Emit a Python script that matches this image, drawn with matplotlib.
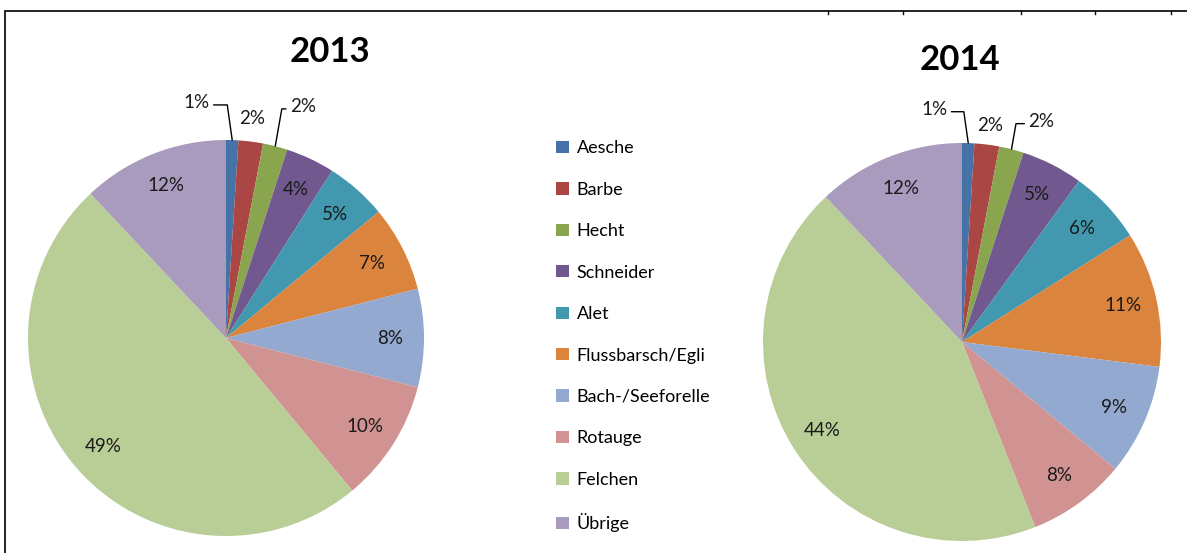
import numpy as np
import matplotlib
matplotlib.use("Agg")
import matplotlib.pyplot as plt
from matplotlib.patches import Rectangle

plt.rcParams['font.family'] = ['Lato', 'DejaVu Sans']

# Data (percent of catch)
species = ['Aesche', 'Barbe', 'Hecht', 'Schneider', 'Alet', 'Flussbarsch/Egli',
           'Bach-/Seeforelle', 'Rotauge', 'Felchen', 'Übrige']
share_2013 = [1, 2, 2, 4, 5, 7, 8, 10, 49, 12]
share_2014 = [1, 2, 2, 5, 6, 11, 9, 8, 44, 12]
years = ['2013', '2014']

colors = ['#4572A7', '#AA4643', '#89A54E', '#71588F', '#4198AF',
          '#DB843D', '#93A9CF', '#D19392', '#B9CD96', '#A99BBD']

W, H = 1187, 553
fig = plt.figure(figsize=(W / 100, H / 100), dpi=100)

# outer chart frame
fig.patches.append(Rectangle((5 / W, -0.05), 1.2, (H - 11) / H + 0.05,
                             transform=fig.transFigure, fill=False,
                             edgecolor='black', lw=1.2))
for tx in [828, 903, 1021, 1095, 1171]:
    fig.add_artist(plt.Line2D([tx / W, tx / W], [(H - 11) / H, (H - 14) / H],
                              transform=fig.transFigure, color='black', lw=1))

# pixel layout: (center x, center y, radius), title position, small label spots
layouts = [
    dict(cx=226, cy=338, r=198, title=(330, 52),
         small=[(-0.15, 1.19), (0.13, 1.11), (0.39, 1.17)]),
    dict(cx=962, cy=342, r=199, title=(960, 60),
         small=[(-0.14, 1.17), (0.14, 1.09), (0.40, 1.11)]),
]

for values, year, lay in zip([share_2013, share_2014], years, layouts):
    r = lay['r']
    ax = fig.add_axes([(lay['cx'] - r) / W, (H - lay['cy'] - r) / H, 2 * r / W, 2 * r / H])
    wedges, _ = ax.pie(values, colors=colors, startangle=90, counterclock=False,
                       radius=1, wedgeprops=dict(linewidth=0))
    ax.set_xlim(-1, 1)
    ax.set_ylim(-1, 1)
    ax.set_aspect('equal')
    ax.axis('off')

    for i, (w, v) in enumerate(zip(wedges, values)):
        mid = np.deg2rad((w.theta1 + w.theta2) / 2)
        label = f"{v}%"
        if v >= 3:
            ax.text(0.83 * np.cos(mid), 0.83 * np.sin(mid), label, ha='center',
                    va='center', fontsize=13.5, color='#1a1a1a')
        else:
            lx, ly = lay['small'][i]
            edge = (np.cos(mid), np.sin(mid))
            if i == 1:
                ax.text(lx, ly, label, ha='center', va='center', fontsize=13.5, color='#1a1a1a')
            else:
                side = (1, 0.35) if i == 0 else (0, 0.35)
                angB = 98 if i == 0 else 80
                ax.annotate(label, xy=edge, xytext=(lx, ly), ha='center', va='center',
                            fontsize=13.5, color='#1a1a1a', annotation_clip=False,
                            arrowprops=dict(arrowstyle='-', color='black', lw=1,
                                            shrinkA=1, shrinkB=0, relpos=side,
                                            connectionstyle=f'angle,angleA=0,angleB={angB},rad=0'))

    fig.text(lay['title'][0] / W, 1 - lay['title'][1] / H, year, ha='center', va='center',
             fontsize=25, fontweight='bold', color='black')

handles = [Rectangle((0, 0), 1, 1, facecolor=c, edgecolor='none') for c in colors]
fig.legend(handles, species, loc='upper left', bbox_to_anchor=(540 / W, 1 - 124 / H),
           frameon=False, fontsize=13, labelspacing=1.41, handlelength=0.68,
           handleheight=0.68, handletextpad=0.45)

fig.savefig('out.png', dpi=100)
